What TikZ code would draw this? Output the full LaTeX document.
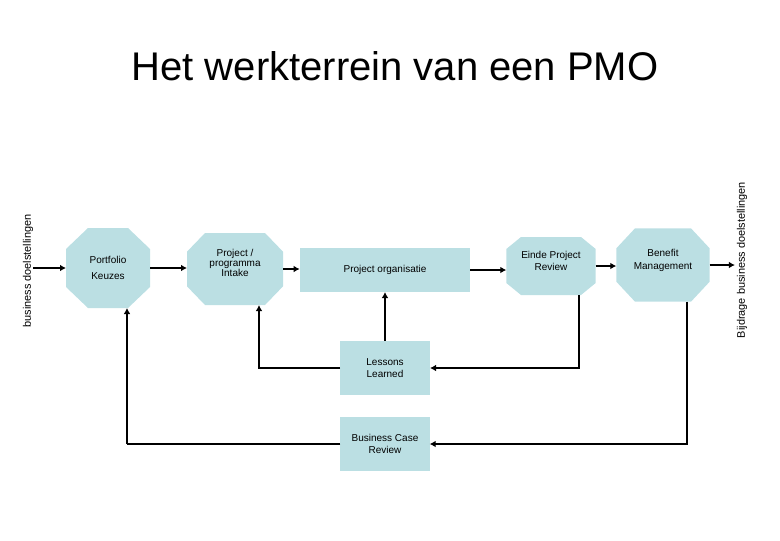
\documentclass[tikz,border=0pt]{standalone}
\usepackage{fontspec}
\setmainfont{Liberation Sans}
\usetikzlibrary{arrows.meta}
\definecolor{pmoFill}{HTML}{BBDFE3}
\definecolor{pmoInk}{HTML}{000000}

\begin{document}
\begin{tikzpicture}[
  x=0.75pt,y=-0.75pt,
  font=\fontsize{7.5}{9}\selectfont,
  every node/.style={
    text=pmoInk,align=center,outer sep=0pt
  },
  octa/.style 2 args={
    rectangle,
    draw=none,
    inner sep=1pt,
    path picture={
      \fill[pmoFill]
        ([xshift=#1]path picture bounding box.north west)
        -- ([xshift=-#1]path picture bounding box.north east)
        -- ([yshift=-#2]path picture bounding box.north east)
        -- ([yshift=#2]path picture bounding box.south east)
        -- ([xshift=-#1]path picture bounding box.south east)
        -- ([xshift=#1]path picture bounding box.south west)
        -- ([yshift=#2]path picture bounding box.south west)
        -- ([yshift=-#2]path picture bounding box.north west)
        -- cycle;
    }
  },
  box/.style={
    rectangle,
    fill=pmoFill,
    draw=none,
    inner sep=1pt
  },
  side/.style={
    rotate=90,
    inner sep=0pt,
    font=\fontsize{8.2}{10}\selectfont
  },
  flow/.style={
    -{Latex[length=4.5pt,width=5pt]},
    draw=pmoInk,
    line width=1.5pt
  },
  line/.style={
    draw=pmoInk,
    line width=1.5pt
  }
]
\path[use as bounding box] (0,0) rectangle (780,540);

% Title
\node[font=\fontsize{30}{35}\selectfont] (title) at (395,66)
  {Het werkterrein van een PMO};

% Side labels
\node[side] (bdl) at (28,271) {business doelstellingen};
\node[side] (bbd) at (742,260) {Bijdrage business doelstellingen};

% Main row
\node[
  octa={16.5pt}{15.75pt},
  minimum width=63pt,
  minimum height=60pt
] (pk) at (108,268)
  {Portfolio\\[3pt]Keuzes};

\node[
  octa={13.5pt}{14pt},
  minimum width=72pt,
  minimum height=54pt,
  font=\fontsize{7.5}{7.5}\selectfont
] (pi) at (235,269)
  {Project /\\programma\\Intake\\[1.5pt]};

\node[
  box,
  minimum width=128pt,
  minimum height=33pt
] (po) at (385,270)
  {Project organisatie};

\node[
  octa={11pt}{9pt},
  minimum width=67pt,
  minimum height=43.5pt
] (epr) at (551,266)
  {Einde Project\\Review\\[-1pt]};

\node[
  octa={14pt}{15pt},
  minimum width=70pt,
  minimum height=55pt
] (bm) at (663,265)
  {Benefit\\[1pt]Management\\[-1pt]};

% Feedback boxes
\node[
  box,
  minimum width=67.5pt,
  minimum height=41pt
] (ll) at (385,368)
  {Lessons\\Learned};

\node[
  box,
  minimum width=67pt,
  minimum height=40.5pt
] (bcr) at (385,444)
  {Business Case\\Review};

% Forward flow
\draw[flow] (bdl.south |- pk.west) -- (pk.west);
\draw[flow] (pk.east) -- (pk.east -| pi.west);
\draw[flow] (pi.east) -- (pi.east -| po.west);
\draw[flow] (po.east) -- (po.east -| epr.west);
\draw[flow] (epr.east) -- (epr.east -| bm.west);
\draw[flow] (bm.east) -- ([xshift=-1.5pt]bm.east -| bbd.north);

% Lessons learned loop
\draw[flow] ([shift={(28,0)}]epr.south) |- (ll.east);
\draw[flow] (ll.north) -- (po.south);
\draw[flow] (ll.west) -| ([shift={(24,0)}]pi.south);

% Business case loop
\coordinate (pkin) at ([shift={(19,0)}]pk.south);
\draw[flow] ([shift={(24,0)}]bm.south) |- (bcr.east);
\draw[line] (bcr.west) -- (bcr.west -| pkin);
\draw[flow,line width=0.8pt] (bcr.west -| pkin) -- (pkin);

\end{tikzpicture}
\end{document}
